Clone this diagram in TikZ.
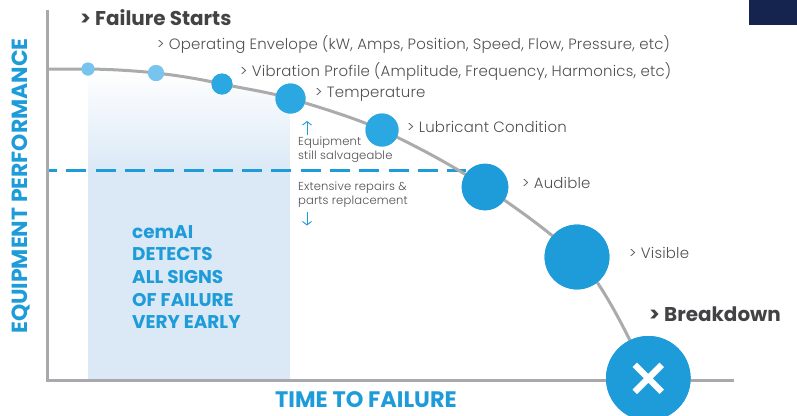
\documentclass[tikz,border=0pt]{standalone}
\usepackage{fontspec}
\setmainfont{Poppins}
\newfontfamily\lightf[LetterSpace=1.3]{Poppins Light}
\usetikzlibrary{arrows.meta}
\definecolor{axisgray}{HTML}{A9A9AD}
\definecolor{curvegray}{HTML}{ABABAB}
\definecolor{cblue}{HTML}{1E9CD9}
\definecolor{cmid}{HTML}{2BA8E2}
\definecolor{cpale}{HTML}{77C4EE}
\definecolor{ctext}{HTML}{4F5052}
\definecolor{cdark}{HTML}{434345}
\definecolor{cfill}{HTML}{DBE9F6}
\definecolor{navy}{HTML}{14244F}
\tikzset{
  dot/.style={circle,inner sep=0pt,minimum size=#1*2bp,fill=cblue},
  lab/.style={anchor=west,inner sep=0pt,text=ctext,font=\lightf\fontsize{15}{18}\selectfont},
  small/.style={anchor=west,inner sep=0pt,text=ctext,font=\lightf\fontsize{11.6}{14.2}\selectfont,align=left},
  head/.style={anchor=west,inner sep=0pt,text=cdark,font=\fontsize{20}{24}\selectfont\bfseries},
  arrowb/.style={cblue,line width=0.9bp,-{Straight Barb[length=3.5bp,width=9bp]}}
}
\begin{document}
\begin{tikzpicture}[x=1bp,y=-1bp]
\useasboundingbox (0,0) rectangle (797,415);
\clip (0,0) rectangle (797,415);
\fill[navy] (749,0) rectangle (797,25);
% shaded panel
\begin{scope}
\clip (88,69) .. controls (156,70) and (222,80) .. (290.5,98.5) -- (290.5,380) -- (88,380) -- cycle;
\fill[cfill] (88,170) rectangle (290.5,380);
\shade[top color=white,bottom color=cfill] (88,69) rectangle (290.5,170);
\end{scope}
% dot positions
\coordinate (start) at (49,69);
\node[dot=6.5,fill=cpale] (a) at (88,69) {};
\node[dot=8,fill=cpale] (b) at (156,73) {};
\node[dot=10.5,fill=cmid] (c) at (222,84) {};
\node[dot=15,fill=cmid] (d) at (290.5,98.5) {};
\node[dot=16.5,fill=cmid] (e) at (382,130) {};
\node[dot=23.3] (f) at (485,187) {};
\node[dot=32.4] (g) at (577,257) {};
\node[dot=42.3] (h) at (648.3,378.3) {};
% dashed limit
\coordinate (dl) at (49,170.5);
\coordinate (dr) at (466,170.5);
\draw[cblue,line width=2.8bp,dash pattern=on 20bp off 9.3bp,dash phase=12bp] (dl) -- (dr);
% curve
\draw[curvegray,line width=3bp] (start) .. controls (62,69) and (75,69) .. (a.center)
  .. controls (110,69.3) and (133,70.5) .. (b.center)
  .. controls (178,75.5) and (200,79) .. (c.center)
  .. controls (246,89) and (268,92) .. (d.center)
  .. controls (322,108) and (352,117) .. (e.center)
  .. controls (418,147) and (452,165) .. (f.center)
  .. controls (518,209) and (550,232) .. (g.center)
  .. controls (604,284) and (630,340) .. (h.center);
% axes
\coordinate (top) at (47.5,10);
\coordinate (org) at (47.5,380);
\coordinate (rgt) at (734,380);
\draw[axisgray,line width=3bp] (top) -- (org) -- (rgt);
% redraw dots on top
\node[dot=6.5,fill=cpale] at (a) {};
\node[dot=8,fill=cpale] at (b) {};
\node[dot=10.5,fill=cmid] at (c) {};
\node[dot=15,fill=cmid] at (d) {};
\node[dot=16.5,fill=cmid] at (e) {};
\node[dot=23.3] at (f) {};
\node[dot=32.4] at (g) {};
\node[dot=42.3] at (h) {};
\draw[white,line width=6.2bp] (648.3,378.3) ++(-13.5,-13.5) -- ++(27,27) ++(0,-27) -- ++(-27,27);
% labels
\node[head] (t1) at (80,17.5) {> Failure Starts};
\node[lab] (t2) at (157,45) {> Operating Envelope (kW, Amps, Position, Speed, Flow, Pressure, etc)};
\node[lab] (t3) at (240,71.5) {> Vibration Profile (Amplitude, Frequency, Harmonics, etc)};
\node[lab] (t4) at (315,94.5) {> Temperature};
\node[lab] (t5) at (407,126.5) {> Lubricant Condition};
\node[lab] (t6) at (522,183) {> Audible};
\node[lab] (t7) at (629,253) {> Visible};
\node[head] (t8) at (649,314) {> Breakdown};
\node[small] (s1) at (298,150) {Equipment\\still salvageable};
\node[small] (s2) at (298,195) {Extensive repairs \&\\parts replacement};
\coordinate (u1) at (307,135); \coordinate (u2) at (307,121);
\coordinate (v1) at (307,212); \coordinate (v2) at (307,225.5);
\draw[arrowb] (u1) -- (u2);
\draw[arrowb] (v1) -- (v2);
\node[anchor=north west,inner sep=0pt,text=cblue,font=\fontsize{18.5}{22.75}\selectfont\bfseries,align=left] (m) at (132,225) {cemAI\\DETECTS\\ALL SIGNS\\OF FAILURE\\VERY EARLY};
\node[text=cblue,inner sep=0pt,font=\fontsize{22.5}{26}\selectfont\bfseries] (xl) at (366,399.5) {TIME TO FAILURE};
\node[text=cblue,inner sep=0pt,rotate=90,font=\fontsize{22}{26}\selectfont\bfseries] (yl) at (21,186) {EQUIPMENT PERFORMANCE};
\end{tikzpicture}
\end{document}
